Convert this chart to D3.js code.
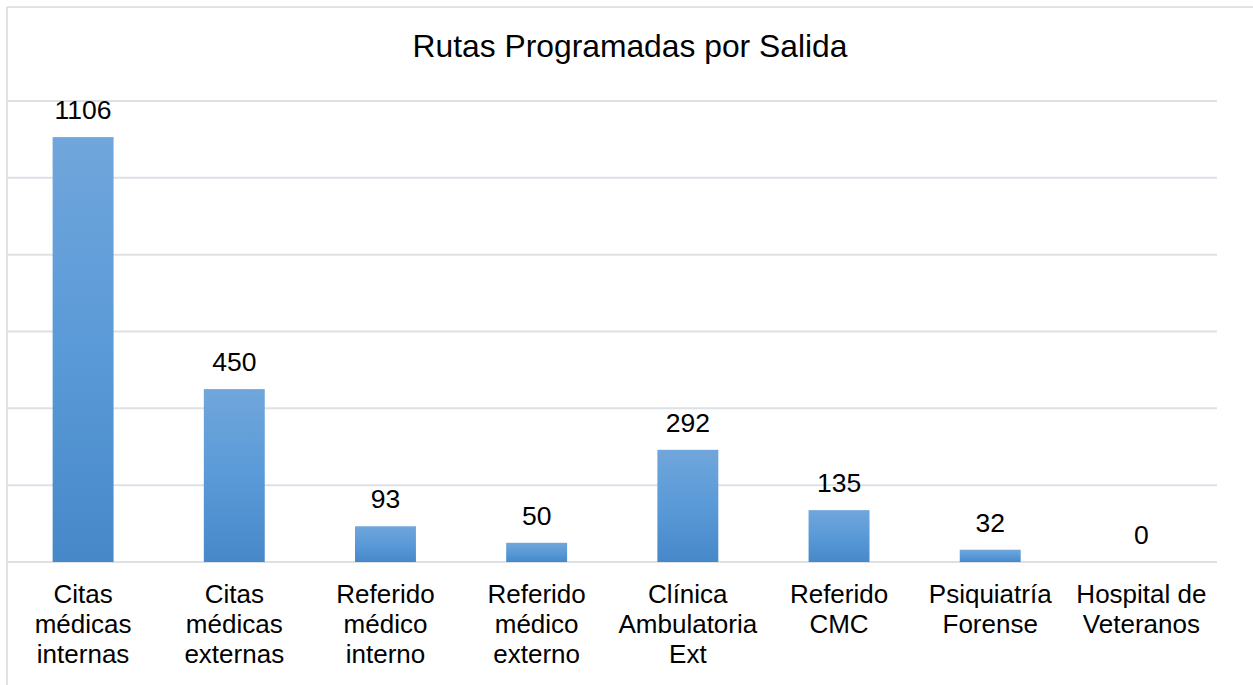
<!DOCTYPE html>
<html>
<head>
<meta charset="utf-8">
<script src="https://cdn.jsdelivr.net/npm/d3@7"></script>
<style>
  html, body { margin: 0; padding: 0; background: #fff; }
  svg { display: block; font-family: "Liberation Sans", Arial, sans-serif; }
</style>
</head>
<body>
<div id="chart"></div>
<script>
'use strict';

// chart data
var title = 'Rutas Programadas por Salida';
var categories = [
  'Citas\nmédicas\ninternas',
  'Citas\nmédicas\nexternas',
  'Referido\nmédico\ninterno',
  'Referido\nmédico\nexterno',
  'Clínica\nAmbulatoria\nExt',
  'Referido\nCMC',
  'Psiquiatría\nForense',
  'Hospital de\nVeteranos'
];
var values = [1106, 450, 93, 50, 292, 135, 32, 0];
var yTicks = [0, 200, 400, 600, 800, 1000, 1200];

var width = 1253;
var height = 685;
var plot = { left: 7.5, right: 1217, top: 101, bottom: 562 };

var svg = d3.select('#chart').append('svg')
  .attr('width', width)
  .attr('height', height);

// bar gradient, lighter on top
var grad = svg.append('defs').append('linearGradient')
  .attr('id', 'barGrad')
  .attr('x1', 0).attr('y1', 0).attr('x2', 0).attr('y2', 1);
grad.append('stop').attr('offset', '0%').attr('stop-color', '#70a6db');
grad.append('stop').attr('offset', '50%').attr('stop-color', '#5a9ad8');
grad.append('stop').attr('offset', '100%').attr('stop-color', '#4788c9');

// chart border (only top and left are visible in the frame)
svg.append('line')
  .attr('x1', 7).attr('x2', width).attr('y1', 7).attr('y2', 7)
  .style('stroke', '#d9d9d9').style('stroke-width', 1.5);
svg.append('line')
  .attr('x1', 7).attr('x2', 7).attr('y1', 7).attr('y2', height)
  .style('stroke', '#d9d9d9').style('stroke-width', 1.5);

// scales
var x = d3.scaleBand()
  .domain(categories)
  .range([plot.left, plot.right])
  .paddingInner(0.597)
  .paddingOuter(0.2985);

var y = d3.scaleLinear()
  .domain([0, 1200])
  .range([plot.bottom, plot.top]);

// gridlines
svg.append('g').attr('class', 'grid')
  .selectAll('line').data(yTicks)
  .enter().append('line')
  .attr('x1', plot.left).attr('x2', plot.right)
  .attr('y1', function (d) { return y(d); })
  .attr('y2', function (d) { return y(d); })
  .style('stroke', '#dde1e6')
  .style('stroke-width', 2);

// bars
svg.append('g').attr('class', 'bars')
  .selectAll('rect').data(values)
  .enter().append('rect')
  .attr('x', function (d, i) { return x(categories[i]); })
  .attr('y', function (d) { return y(d); })
  .attr('width', x.bandwidth())
  .attr('height', function (d) { return y(0) - y(d); })
  .style('fill', 'url(#barGrad)');

// value labels
svg.append('g').attr('class', 'values')
  .selectAll('text').data(values)
  .enter().append('text')
  .attr('x', function (d, i) { return x(categories[i]) + x.bandwidth() / 2; })
  .attr('y', function (d) { return y(d) - 18; })
  .style('text-anchor', 'middle')
  .style('font-size', '26.5px')
  .style('fill', '#000')
  .text(function (d) { return d; });

// category labels
var xAxis = svg.append('g').attr('class', 'x-labels');
categories.forEach(function (c) {
  var t = xAxis.append('text')
    .attr('x', x(c) + x.bandwidth() / 2)
    .attr('y', 603)
    .style('text-anchor', 'middle')
    .style('font-size', '26px')
    .style('fill', '#000');
  c.split('\n').forEach(function (line, j) {
    t.append('tspan')
      .attr('x', x(c) + x.bandwidth() / 2)
      .attr('y', 603 + j * 30)
      .text(line);
  });
});

// title
svg.append('text')
  .attr('x', 630)
  .attr('y', 57)
  .style('text-anchor', 'middle')
  .style('font-size', '31.8px')
  .style('fill', '#000')
  .text(title);
</script>
</body>
</html>
